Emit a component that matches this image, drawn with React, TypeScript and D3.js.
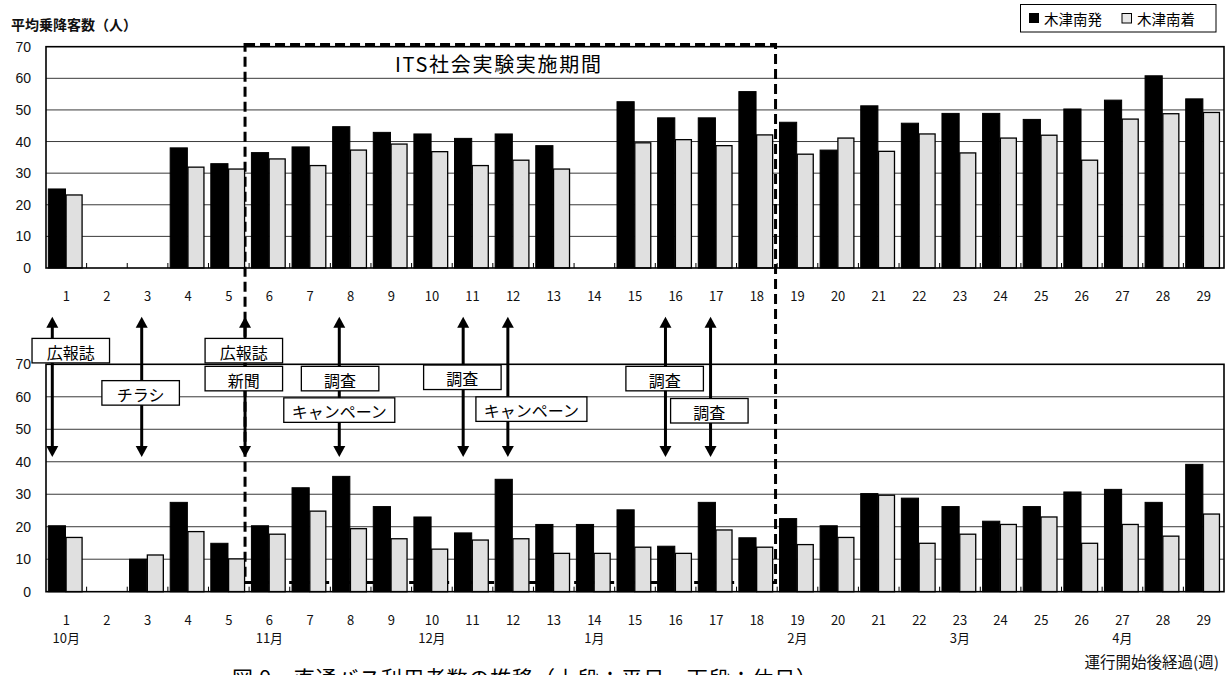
import React from "react";
import * as d3 from "d3";

// ---- data ----
const weeks: number[] = d3.range(1, 30);
const weekdayDep: (number | null)[] = [25, null, null, 38, 33, 36.5, 38.3, 44.7, 42.9, 42.4, 41, 42.4, 38.7, null, 52.6, 47.5, 47.5, 55.8, 46.1, 37.3, 51.3, 45.8, 48.9, 48.9, 47, 50.3, 53.1, 60.8, 53.5];
const weekdayArr: (number | null)[] = [23.1, null, null, 31.9, 31.3, 34.5, 32.4, 37.3, 39.2, 36.8, 32.4, 34.1, 31.3, null, 39.6, 40.6, 38.7, 42.1, 36, 41.1, 36.9, 42.4, 36.4, 41.1, 42, 34.1, 47.1, 48.8, 49.2];
const holidayDep: (number | null)[] = [20.3, null, 10, 27.5, 14.9, 20.3, 32, 35.5, 26.2, 23, 18.1, 34.6, 20.7, 20.7, 25.2, 14, 27.5, 16.6, 22.5, 20.3, 30.2, 28.8, 26.2, 21.7, 26.2, 30.7, 31.5, 27.5, 39.2];
const holidayArr: (number | null)[] = [16.7, null, 11.3, 18.5, 10.1, 17.7, 24.8, 19.4, 16.3, 13.1, 15.9, 16.3, 11.8, 11.8, 13.7, 11.8, 19, 13.7, 14.5, 16.7, 29.7, 14.9, 17.7, 20.7, 23, 14.9, 20.7, 17.1, 23.9];
const yTicks: number[] = [0, 10, 20, 30, 40, 50, 60, 70];
const monthWeeks: number[] = [1, 6, 10, 14, 19, 23, 27];
const monthLabels: string[] = ["10月", "11月", "12月", "1月", "2月", "3月", "4月"];
const seriesNames: string[] = ["木津南発", "木津南着"];
// annotations: arrow positions (week units from left edge) and labelled boxes
const arrowPos: number[] = [0.155, 2.356, 4.9, 7.22, 10.27, 11.37, 15.25, 16.36];
const noteLabels: string[] = ["広報誌", "チラシ", "広報誌", "新聞", "調査", "キャンペーン", "調査", "キャンペーン", "調査", "調査"];
const notePos: number[] = [0.61, 2.33, 4.87, 4.87, 7.24, 7.22, 10.25, 11.95, 15.23, 16.33];
const noteLevel: number[] = [74.2, 61.2, 74.2, 65.6, 65.6, 55.9, 66.0, 56.2, 65.6, 55.7];

const JP = "'Noto Sans CJK JP', 'Noto Sans', sans-serif";
const NUM = "'Liberation Sans', Arial, sans-serif";

export default function App() {
  const W = 1228, H = 675;
  const left = 46, right = 1224;
  const x = d3.scaleBand<string>().domain(weeks.map(String)).range([left, right]).paddingInner(0).paddingOuter(0);
  const bw = x.bandwidth();
  const xs = d3.scaleBand<string>().domain(["dep", "arr"]).range([0.057 * bw, 0.903 * bw]).padding(0);
  const xLin = d3.scaleLinear().domain([0, 29]).range([left, right]);
  const yTop = d3.scaleLinear().domain([0, 70]).range([268, 46.7]);
  const yBot = d3.scaleLinear().domain([0, 70]).range([591.7, 364.3]);

  const renderGrid = (y: d3.ScaleLinear<number, number>, key: string) => (
    <g key={key}>
      {yTicks.filter((t) => t > 0 && t < 70).map((t) => (
        <line key={t} x1={left} x2={right} y1={y(t)} y2={y(t)} stroke="#3a3a3a" strokeWidth={1} />
      ))}
      {yTicks.map((t) => (
        <text key={"l" + t} x={31} y={y(t)} textAnchor="end" dominantBaseline="central" fontFamily={NUM} fontSize={14} fill="#111">{t}</text>
      ))}
    </g>
  );

  const renderBars = (y: d3.ScaleLinear<number, number>, dep: (number | null)[], arr: (number | null)[], key: string) => (
    <g key={key}>
      {weeks.map((w, i) => {
        const x0 = x(String(w))!;
        const d = dep[i], a = arr[i];
        return (
          <g key={w}>
            {d != null && (
              <rect x={x0 + xs("dep")!} y={y(d)} width={xs.bandwidth()} height={y(0) - y(d)} fill="#000" stroke="#000" strokeWidth={1} />
            )}
            {a != null && (
              <rect x={x0 + xs("arr")! + 0.6} y={y(a)} width={xs.bandwidth() - 1.2} height={y(0) - y(a)} fill="#e0e0e0" stroke="#000" strokeWidth={1.3} />
            )}
          </g>
        );
      })}
      {d3.range(1, 29).map((k) => (
        <line key={"t" + k} x1={xLin(k)} x2={xLin(k)} y1={y(0)} y2={y(0) - 5} stroke="#000" strokeWidth={1} />
      ))}
    </g>
  );

  const dashL = xLin(4.9), dashR = xLin(17.96), dashT = 44.5, dashB = yBot(2.8);
  const arrowTop = yBot(84.6), arrowBot = yBot(41.5);

  return (
    <svg width={W} height={H} style={{ position: "absolute", left: 0, top: 0, background: "#fff" }}>
      <rect x={0} y={0} width={W} height={H} fill="#fff" />
      {/* y label */}
      <text x={11} y={30} fontFamily={JP} fontSize={14} fontWeight={600} fill="#111">平均乗降客数（人）</text>
      {/* legend */}
      <g>
        <rect x={1020.5} y={4.5} width={195.5} height={27.5} fill="#fff" stroke="#000" strokeWidth={1} />
        <rect x={1029} y={13} width={10} height={10} fill="#000" />
        <text x={1044} y={18.5} dominantBaseline="central" fontFamily={JP} fontSize={14.5} fill="#000">{seriesNames[0]}</text>
        <rect x={1122} y={13.5} width={9.5} height={9.5} fill="#e8e8e8" stroke="#000" strokeWidth={1} />
        <text x={1137} y={18.5} dominantBaseline="central" fontFamily={JP} fontSize={14.5} fill="#000">{seriesNames[1]}</text>
      </g>

      {renderGrid(yTop, "top")}
      {renderGrid(yBot, "bot")}

      {/* experiment period dashed box */}
      <rect x={dashL} y={dashT} width={dashR - dashL} height={dashB - dashT} fill="none" stroke="#000" strokeWidth={3} strokeDasharray="10 5" />
      <text x={395} y={63.5} dominantBaseline="central" fontFamily={JP} fontSize={20} fill="#000" textLength={206} lengthAdjust="spacing">ITS社会実験実施期間</text>

      {renderBars(yTop, weekdayDep, weekdayArr, "topbars")}
      {renderBars(yBot, holidayDep, holidayArr, "botbars")}

      {/* frames */}
      <rect x={left} y={yTop(70)} width={right - left} height={yTop(0) - yTop(70)} fill="none" stroke="#000" strokeWidth={1.6} />
      <rect x={left} y={yBot(70)} width={right - left} height={yBot(0) - yBot(70)} fill="none" stroke="#000" strokeWidth={1.6} />

      {/* x labels */}
      {weeks.map((w) => (
        <text key={"xt" + w} x={x(String(w))! + bw / 2} y={301} textAnchor="middle" fontFamily={JP} fontSize={13} fill="#111">{w}</text>
      ))}
      {weeks.map((w) => (
        <text key={"xb" + w} x={x(String(w))! + bw / 2} y={625} textAnchor="middle" fontFamily={JP} fontSize={13} fill="#111">{w}</text>
      ))}
      {monthWeeks.map((w, i) => (
        <text key={"m" + w} x={x(String(w))! + bw / 2} y={643} textAnchor="middle" fontFamily={JP} fontSize={13} fill="#111">{monthLabels[i]}</text>
      ))}
      <text x={1219} y={668} textAnchor="end" fontFamily={JP} fontSize={15.5} fill="#111">運行開始後経過(週)</text>

      {/* arrows */}
      {arrowPos.map((p, i) => {
        const ax = xLin(p);
        return (
          <g key={"a" + i}>
            <line x1={ax} x2={ax} y1={arrowTop + 9} y2={arrowBot - 9} stroke="#000" strokeWidth={3} />
            <path d={`M${ax},${arrowTop} L${ax - 6},${arrowTop + 11} L${ax + 6},${arrowTop + 11} Z`} fill="#000" />
            <path d={`M${ax},${arrowBot} L${ax - 6},${arrowBot - 11} L${ax + 6},${arrowBot - 11} Z`} fill="#000" />
          </g>
        );
      })}
      {/* note boxes */}
      {noteLabels.map((lab, i) => {
        const cx = xLin(notePos[i]);
        const cy = yBot(noteLevel[i]);
        const w = lab.length > 4 ? 111 : 77.5;
        const h = 24.5;
        return (
          <g key={"n" + i}>
            <rect x={cx - w / 2} y={cy - h / 2} width={w} height={h} fill="#fff" stroke="#000" strokeWidth={1.3} />
            <text x={cx} y={cy + 1} textAnchor="middle" dominantBaseline="central" fontFamily={JP} fontSize={16} fill="#000">{lab}</text>
          </g>
        );
      })}

      {/* caption (cut at bottom edge, as in the source) */}
      <text x={232} y={686} fontFamily={JP} fontSize={21} fill="#000" textLength={585} lengthAdjust="spacing">図 9　直通バス利用者数の推移（上段：平日、下段：休日）</text>
    </svg>
  );
}
